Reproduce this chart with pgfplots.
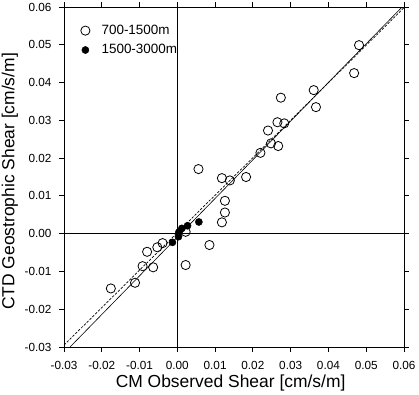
\documentclass[border=0pt]{standalone}
\usepackage{pgfplots}
\pgfplotsset{compat=1.18}
\usepackage{fontspec}
\setmainfont{Liberation Sans}
\begin{document}
\begin{tikzpicture}
\useasboundingbox (-64bp,-48bp) rectangle (355bp,347bp);
\begin{axis}[
  at={(0,0)}, anchor=south west,
  scale only axis, width=340bp, height=340bp,
  xmin=-0.03, xmax=0.06, ymin=-0.03, ymax=0.06,
  xtick={-0.03,-0.02,-0.01,0,0.01,0.02,0.03,0.04,0.05,0.06},
  ytick={-0.03,-0.02,-0.01,0,0.01,0.02,0.03,0.04,0.05,0.06},
  scaled ticks=false,
  tick align=outside, tick pos=both,
  xticklabel pos=lower, yticklabel pos=left,
  major tick length=5bp,
  tick style={black, line width=0.8bp},
  axis line style={line width=0.8bp},
  xticklabel={\pgfmathprintnumber[fixed,fixed zerofill,precision=2,assume math mode=true]{\tick}},
  yticklabel={\pgfmathprintnumber[fixed,fixed zerofill,precision=2,assume math mode=true]{\tick}},
  ticklabel style={font=\fontsize{11.8}{13}\selectfont},
  xticklabel style={yshift=-6bp},
  yticklabel style={xshift=-4bp},
  xlabel={CM Observed Shear [cm/s/m]},
  ylabel={CTD Geostrophic Shear [cm/s/m]},
  label style={font=\fontsize{17.5}{20}\selectfont},
  xlabel style={at={(axis description cs:0.49,-0.105)}, anchor=center},
  ylabel style={at={(axis description cs:-0.159,0.487)}, anchor=center},
  legend image code/.code={\path (0bp,0bp) (23bp,0bp); \draw[#1] plot coordinates {(9bp,0bp)};},
  legend style={draw=none, fill=none, at={(axis description cs:0,1)}, anchor=north west,
    xshift=9bp, yshift=-14bp, font=\fontsize{13.5}{15}\selectfont, row sep=4.5bp},
  legend cell align=left,
]
\addplot[black, line width=0.8bp, forget plot] coordinates {(-0.03,0) (0.06,0)};
\addplot[black, line width=0.8bp, forget plot] coordinates {(0,-0.03) (0,0.06)};
\addplot[black, line width=0.6bp, forget plot] coordinates {(-0.0284,-0.03) (0.0595,0.06)};
\addplot[black, line width=0.7bp, dash pattern=on 2.5bp off 1.5bp, forget plot] coordinates {(-0.0300,-0.0295) (0.0602,0.06)};
\addplot[only marks, mark=o, mark size=4.6bp, mark options={line width=0.8bp, black, fill=none}] coordinates {
(-0.0176,-0.0145)
(-0.0112,-0.0130)
(-0.0092,-0.0086)
(-0.0064,-0.0089)
(-0.0080,-0.0048)
(-0.0053,-0.0036)
(-0.0039,-0.0025)
(0.0022,0.0005)
(0.0022,-0.0083)
(0.0085,-0.0030)
(0.0118,0.0030)
(0.0126,0.0056)
(0.0126,0.0087)
(0.0056,0.0171)
(0.0118,0.0147)
(0.0139,0.0141)
(0.0182,0.0150)
(0.0220,0.0214)
(0.0248,0.0239)
(0.0267,0.0232)
(0.0240,0.0273)
(0.0265,0.0295)
(0.0283,0.0292)
(0.0274,0.0360)
(0.0361,0.0380)
(0.0367,0.0335)
(0.0468,0.0425)
(0.0481,0.0499)
};
\addlegendentry{700-1500m}
\addplot[only marks, mark=*, mark size=3.6bp, mark options={black, fill=black}] coordinates {
(0.0057,0.0031)
(0.0027,0.0021)
(0.0012,0.0014)
(0.0004,0.0004)
(0.0003,-0.0008)
(-0.0013,-0.0023)
};
\addlegendentry{1500-3000m}
\end{axis}
\end{tikzpicture}
\end{document}
